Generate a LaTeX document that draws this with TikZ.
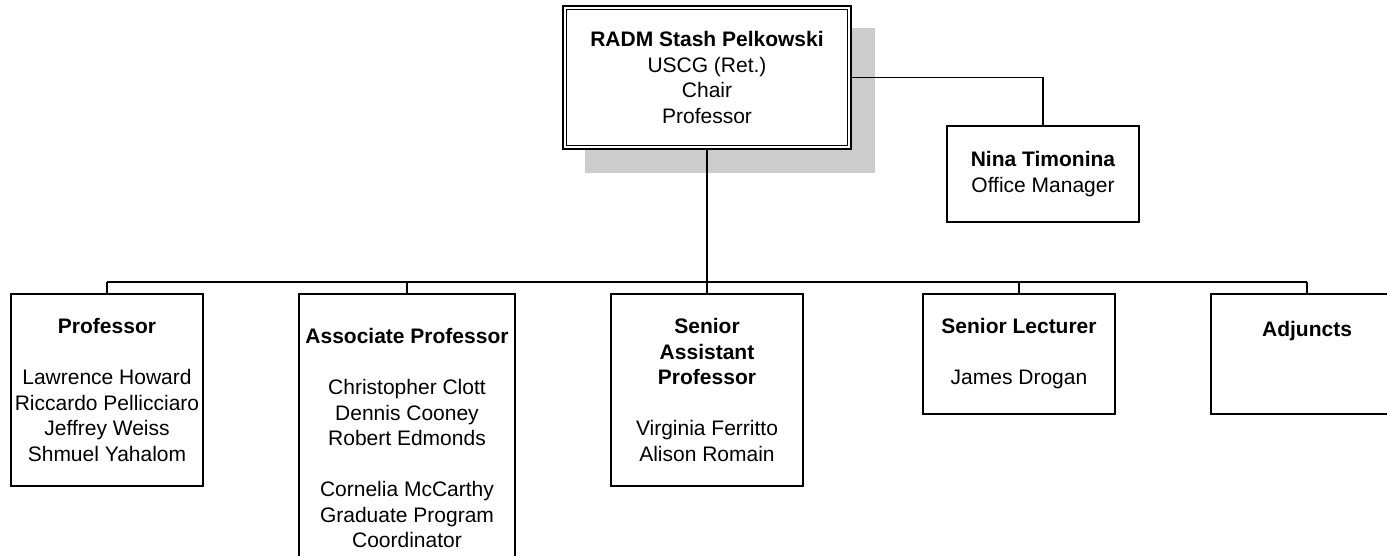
\documentclass[tikz,border=0pt]{standalone}
\usepackage{fontspec}
\setmainfont{Liberation Sans}
\usetikzlibrary{backgrounds}
\definecolor{shadowgray}{HTML}{CCCCCC}
\tikzset{
  box/.style={draw=black, line width=1.8pt, fill=white, rectangle, inner sep=0pt,
    align=center, font=\fontsize{21}{25.5}\selectfont},
  topbox/.style={box, double=white, double distance=2.2pt, line width=1.6pt},
  conn/.style={draw=black, line width=1.8pt},
}
\begin{document}
\begin{tikzpicture}[x=1pt, y=-1pt]
\useasboundingbox (0,0) rectangle (1387,555);
\node[topbox, minimum width=284.6pt, minimum height=139.6pt] (top) at (707,77.5)
  {\textbf{RADM Stash Pelkowski}\\USCG (Ret.)\\Chair\\Professor};
\begin{scope}[on background layer]
  \fill[shadowgray] ([xshift=20.7pt,yshift=-20.7pt]top.north west) rectangle ([xshift=25.3pt,yshift=-25.3pt]top.south east);
\end{scope}
\node[box, minimum width=192pt, minimum height=96pt] (nina) at (1043,174)
  {\textbf{Nina Timonina}\\Office Manager};
\node[box, minimum width=192pt, minimum height=192pt] (prof) at (107,390)
  {\textbf{Professor}\\[25.5pt]Lawrence Howard\\Riccardo Pellicciaro\\Jeffrey Weiss\\Shmuel Yahalom};
\node[box, minimum width=216pt, minimum height=288pt] (assoc) at (407,438)
  {\textbf{Associate Professor}\\[25.5pt]Christopher Clott\\Dennis Cooney\\Robert Edmonds\\[25.5pt]Cornelia McCarthy\\Graduate Program\\Coordinator};
\node[box, minimum width=192pt, minimum height=192pt] (sap) at (707,390)
  {\textbf{Senior}\\\textbf{Assistant}\\\textbf{Professor}\\[25.5pt]Virginia Ferritto\\Alison Romain};
\node[box, minimum width=192pt, minimum height=120pt] (sl) at (1019,354)
  {\textbf{Senior Lecturer}\\[25.5pt]James Drogan};
\node[box, minimum width=192pt, minimum height=120pt] (adj) at (1307,354)
  {\textbf{Adjuncts}\\[25.5pt]\mbox{}};
\coordinate (busL) at (107,282);
\coordinate (busR) at (1307,282);
\draw[conn] (busL) -- (busR);
\draw[conn] (top.south) -- (top.south |- busL);
\draw[conn] (top.east) -| (nina.north);
\draw[conn] (prof.north) -- (prof.north |- busL);
\draw[conn] (assoc.north) -- (assoc.north |- busL);
\draw[conn] (sap.north) -- (sap.north |- busL);
\draw[conn] (sl.north) -- (sl.north |- busL);
\draw[conn] (adj.north) -- (adj.north |- busL);
\end{tikzpicture}
\end{document}
